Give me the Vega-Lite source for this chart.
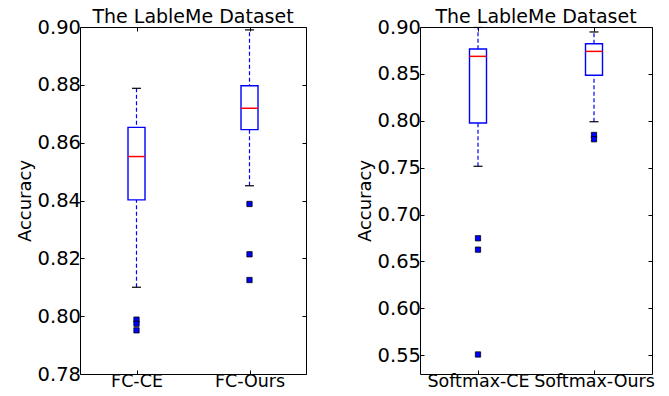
{
  "$schema": "https://vega.github.io/schema/vega-lite/v6.json",
  "padding": {"left": 15, "top": 7, "right": 5, "bottom": 0},
  "config": {
    "font": "DejaVu Sans",
    "view": {"stroke": "black", "strokeWidth": 1},
    "axis": {"grid": false, "domain": false, "tickColor": "black", "tickSize": -4, "tickWidth": 1, "labelColor": "black", "labelFont": "DejaVu Sans", "titleFont": "DejaVu Sans", "titleFontSize": 18, "titleFontWeight": "normal", "titleColor": "black", "minExtent": 0, "maxExtent": 300},
    "axisX": {"labelFontSize": 17.5, "labelPadding": 2},
    "axisY": {"labelFontSize": 19.5, "labelPadding": 3.5},
    "title": {"font": "DejaVu Sans", "fontSize": 19, "fontWeight": "normal", "color": "black", "offset": -10, "anchor": "middle"}
  },
  "datasets": {
    "boxes": [
      {"panel": "FC", "method": "FC-CE", "lower": 0.810, "q1": 0.8402, "median": 0.8552, "q3": 0.8653, "upper": 0.8788},
      {"panel": "FC", "method": "FC-Ours", "lower": 0.8451, "q1": 0.8645, "median": 0.8719, "q3": 0.8797, "upper": 0.899},
      {"panel": "Softmax", "method": "Softmax-CE", "lower": 0.7515, "q1": 0.7977, "median": 0.8687, "q3": 0.8765, "upper": 0.8995},
      {"panel": "Softmax", "method": "Softmax-Ours", "lower": 0.799, "q1": 0.8485, "median": 0.874, "q3": 0.8822, "upper": 0.8947}
    ],
    "outliers": [
      {"panel": "FC", "method": "FC-CE", "value": 0.7988},
      {"panel": "FC", "method": "FC-CE", "value": 0.7974},
      {"panel": "FC", "method": "FC-CE", "value": 0.7951},
      {"panel": "FC", "method": "FC-Ours", "value": 0.8388},
      {"panel": "FC", "method": "FC-Ours", "value": 0.8214},
      {"panel": "FC", "method": "FC-Ours", "value": 0.8125},
      {"panel": "Softmax", "method": "Softmax-CE", "value": 0.6747},
      {"panel": "Softmax", "method": "Softmax-CE", "value": 0.6626},
      {"panel": "Softmax", "method": "Softmax-CE", "value": 0.5508},
      {"panel": "Softmax", "method": "Softmax-Ours", "value": 0.7849},
      {"panel": "Softmax", "method": "Softmax-Ours", "value": 0.7803}
    ]
  },
  "spacing": 48,
  "hconcat": [
    {
      "width": 226,
      "height": 347,
      "title": "The LableMe Dataset",
      "resolve": {"axis": {"x": "independent", "y": "independent"}},
      "layer": [
        {
          "data": {"name": "boxes"},
          "transform": [{"filter": "datum.panel === 'FC'"}],
          "mark": {"type": "rule", "color": "#0000ff", "strokeDash": [4, 2.5], "strokeWidth": 1.2},
          "encoding": {
            "x": {"field": "method", "type": "nominal", "sort": null, "scale": {"type": "point", "padding": 0.5}, "axis": {"orient": "bottom", "title": null, "labelAngle": 0}},
            "y": {"field": "lower", "type": "quantitative", "scale": {"domain": [0.78, 0.9], "nice": false, "zero": false}, "axis": {"orient": "left", "title": "Accuracy", "values": [0.78, 0.8, 0.82, 0.84, 0.86, 0.88, 0.9], "format": ".2f", "titlePadding": 3}},
            "y2": {"field": "upper"}
          }
        },
        {
          "data": {"name": "boxes"},
          "transform": [{"filter": "datum.panel === 'FC'"}],
          "mark": {"type": "bar", "fill": "white", "stroke": "#0000ff", "strokeWidth": 1.4, "size": 17},
          "encoding": {
            "x": {"field": "method", "type": "nominal", "sort": null, "scale": {"type": "point", "padding": 0.5}, "axis": {"orient": "top", "title": null, "labels": false}},
            "y": {"field": "q1", "type": "quantitative", "scale": {"domain": [0.78, 0.9], "nice": false, "zero": false}, "axis": {"orient": "right", "title": null, "labels": false, "values": [0.78, 0.8, 0.82, 0.84, 0.86, 0.88, 0.9]}},
            "y2": {"field": "q3"}
          }
        },
        {
          "data": {"name": "boxes"},
          "transform": [{"filter": "datum.panel === 'FC'"}],
          "mark": {"type": "tick", "color": "#ff0000", "size": 17, "thickness": 1.5, "opacity": 1},
          "encoding": {
            "x": {"field": "method", "type": "nominal", "sort": null, "axis": null},
            "y": {"field": "median", "type": "quantitative", "axis": null}
          }
        },
        {
          "data": {"name": "boxes"},
          "transform": [{"filter": "datum.panel === 'FC'"}],
          "mark": {"type": "tick", "color": "black", "size": 9, "thickness": 1.2, "opacity": 1},
          "encoding": {
            "x": {"field": "method", "type": "nominal", "sort": null, "axis": null},
            "y": {"field": "lower", "type": "quantitative", "axis": null}
          }
        },
        {
          "data": {"name": "boxes"},
          "transform": [{"filter": "datum.panel === 'FC'"}],
          "mark": {"type": "tick", "color": "black", "size": 9, "thickness": 1.2, "opacity": 1},
          "encoding": {
            "x": {"field": "method", "type": "nominal", "sort": null, "axis": null},
            "y": {"field": "upper", "type": "quantitative", "axis": null}
          }
        },
        {
          "data": {"name": "outliers"},
          "transform": [{"filter": "datum.panel === 'FC'"}],
          "mark": {"type": "point", "shape": "square", "filled": true, "fill": "#0000ff", "stroke": "black", "strokeWidth": 0.8, "size": 28, "opacity": 1},
          "encoding": {
            "x": {"field": "method", "type": "nominal", "sort": null, "axis": null},
            "y": {"field": "value", "type": "quantitative", "axis": null}
          }
        }
      ]
    },
    {
      "width": 232,
      "height": 347,
      "title": "The LableMe Dataset",
      "resolve": {"axis": {"x": "independent", "y": "independent"}},
      "layer": [
        {
          "data": {"name": "boxes"},
          "transform": [{"filter": "datum.panel === 'Softmax'"}],
          "mark": {"type": "rule", "color": "#0000ff", "strokeDash": [4, 2.5], "strokeWidth": 1.2},
          "encoding": {
            "x": {"field": "method", "type": "nominal", "sort": null, "scale": {"type": "point", "padding": 0.5}, "axis": {"orient": "bottom", "title": null, "labelAngle": 0}},
            "y": {"field": "lower", "type": "quantitative", "scale": {"domain": [0.53, 0.9], "nice": false, "zero": false}, "axis": {"orient": "left", "title": "Accuracy", "values": [0.55, 0.6, 0.65, 0.7, 0.75, 0.8, 0.85, 0.9], "format": ".2f", "titlePadding": 3}},
            "y2": {"field": "upper"}
          }
        },
        {
          "data": {"name": "boxes"},
          "transform": [{"filter": "datum.panel === 'Softmax'"}],
          "mark": {"type": "bar", "fill": "white", "stroke": "#0000ff", "strokeWidth": 1.4, "size": 17},
          "encoding": {
            "x": {"field": "method", "type": "nominal", "sort": null, "scale": {"type": "point", "padding": 0.5}, "axis": {"orient": "top", "title": null, "labels": false}},
            "y": {"field": "q1", "type": "quantitative", "scale": {"domain": [0.53, 0.9], "nice": false, "zero": false}, "axis": {"orient": "right", "title": null, "labels": false, "values": [0.55, 0.6, 0.65, 0.7, 0.75, 0.8, 0.85, 0.9]}},
            "y2": {"field": "q3"}
          }
        },
        {
          "data": {"name": "boxes"},
          "transform": [{"filter": "datum.panel === 'Softmax'"}],
          "mark": {"type": "tick", "color": "#ff0000", "size": 17, "thickness": 1.5, "opacity": 1},
          "encoding": {
            "x": {"field": "method", "type": "nominal", "sort": null, "axis": null},
            "y": {"field": "median", "type": "quantitative", "axis": null}
          }
        },
        {
          "data": {"name": "boxes"},
          "transform": [{"filter": "datum.panel === 'Softmax'"}],
          "mark": {"type": "tick", "color": "black", "size": 9, "thickness": 1.2, "opacity": 1},
          "encoding": {
            "x": {"field": "method", "type": "nominal", "sort": null, "axis": null},
            "y": {"field": "lower", "type": "quantitative", "axis": null}
          }
        },
        {
          "data": {"name": "boxes"},
          "transform": [{"filter": "datum.panel === 'Softmax'"}],
          "mark": {"type": "tick", "color": "black", "size": 9, "thickness": 1.2, "opacity": 1},
          "encoding": {
            "x": {"field": "method", "type": "nominal", "sort": null, "axis": null},
            "y": {"field": "upper", "type": "quantitative", "axis": null}
          }
        },
        {
          "data": {"name": "outliers"},
          "transform": [{"filter": "datum.panel === 'Softmax'"}],
          "mark": {"type": "point", "shape": "square", "filled": true, "fill": "#0000ff", "stroke": "black", "strokeWidth": 0.8, "size": 28, "opacity": 1},
          "encoding": {
            "x": {"field": "method", "type": "nominal", "sort": null, "axis": null},
            "y": {"field": "value", "type": "quantitative", "axis": null}
          }
        }
      ]
    }
  ]
}
